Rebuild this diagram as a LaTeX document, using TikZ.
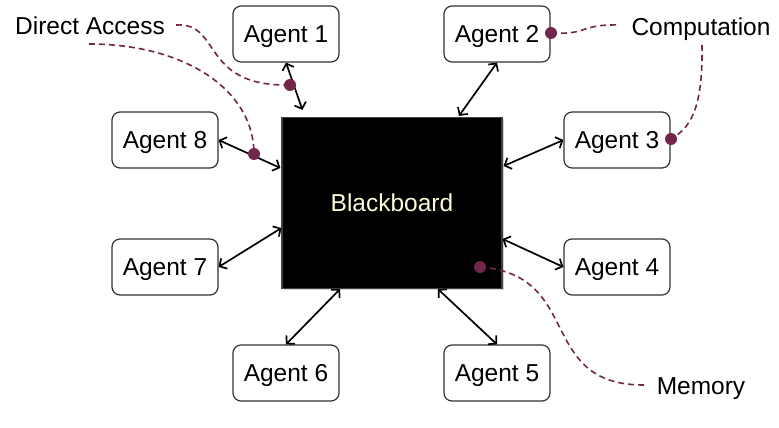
\documentclass[tikz,border=0pt]{standalone}
\usepackage{fontspec}
\setmainfont{Liberation Sans}
\usetikzlibrary{arrows.meta,calc,shadows}
\definecolor{maroon}{RGB}{115,38,75}
\definecolor{cream}{RGB}{255,250,215}
\definecolor{boxline}{RGB}{50,50,50}
\tikzset{
  txt/.style={font=\fontsize{24.5}{28}\selectfont,text height=17pt,text depth=0pt},
  agent/.style={txt,draw=boxline,line width=1.2pt,rounded corners=8pt,fill=white,minimum width=106pt,minimum height=56pt,inner sep=0pt},
  board/.style={txt,fill=black,draw=gray!50!black,line width=1.2pt,minimum width=220pt,minimum height=171pt,inner sep=0pt,text=cream,drop shadow={shadow xshift=1.5pt,shadow yshift=-1.5pt,opacity=0.35}},
  label/.style={txt,inner sep=0pt},
  link/.style={line width=1.7pt,{Straight Barb[length=5.5pt,width=12pt]}-{Straight Barb[length=5.5pt,width=12pt]}},
  dot/.style={circle,fill=maroon,minimum size=12pt,inner sep=0pt},
  callout/.style={maroon,line width=1.6pt,dash pattern=on 6pt off 4pt}
}
\begin{document}
\begin{tikzpicture}[x=1pt,y=-1pt]
\useasboundingbox (0,0) rectangle (779,428);
\node[board] (bb) at (392,203) {Blackboard};
\node[agent] (a1) at (286,34) {Agent 1};
\node[agent] (a2) at (497,34) {Agent 2};
\node[agent] (a3) at (617,140) {Agent 3};
\node[agent] (a4) at (617,267) {Agent 4};
\node[agent] (a5) at (497,373) {Agent 5};
\node[agent] (a6) at (286,373) {Agent 6};
\node[agent] (a7) at (165,267) {Agent 7};
\node[agent] (a8) at (165,140) {Agent 8};

\draw[link] (a1.south) -- ($(bb.north west)+(21,-7)$);
\draw[link] (a2.south) -- ($(bb.north)+(67,-1)$);
\draw[link] (a3.west) -- ($(bb.east)+(1,-37)$);
\draw[link] (a4.west) -- ($(bb.east)+(0,36)$);
\draw[link] (a5.north) -- ($(bb.south)+(46,0)$);
\draw[link] (a6.north) -- ($(bb.south)+(-52,0)$);
\draw[link] (a7.east) -- ($(bb.west)+(0,25)$);
\draw[link] (a8.east) -- ($(bb.west)+(-1,-35)$);

\node[label] (da) at (90,26) {Direct Access};
\node[label] (comp) at (701,27) {Computation};
\node[label] (mem) at (701,385.5) {Memory};

\node[dot] (d1) at (290,85) {};
\node[dot] (d8) at (254,154) {};
\node[dot] (d2) at (551,33) {};
\node[dot] (d3) at (671,139) {};
\node[dot] (dm) at (480,267) {};

\coordinate (s1) at (176,25);
\coordinate (s8) at (89,44);
\coordinate (s2) at (620,25);
\coordinate (s3) at (702,45);
\coordinate (sm) at (647,385);

\draw[callout] (s1) .. controls (222,22) and (200,87) .. (d1.center);
\draw[callout] (s8) .. controls (185,44) and (254,90) .. (d8.center);
\draw[callout] (d2.center) .. controls (590,35) and (578,24) .. (s2);
\draw[callout] (s3) .. controls (703,110) and (690,128) .. (d3.center);
\draw[callout] (dm.center) .. controls (585,275) and (535,387) .. (sm);
\end{tikzpicture}
\end{document}
